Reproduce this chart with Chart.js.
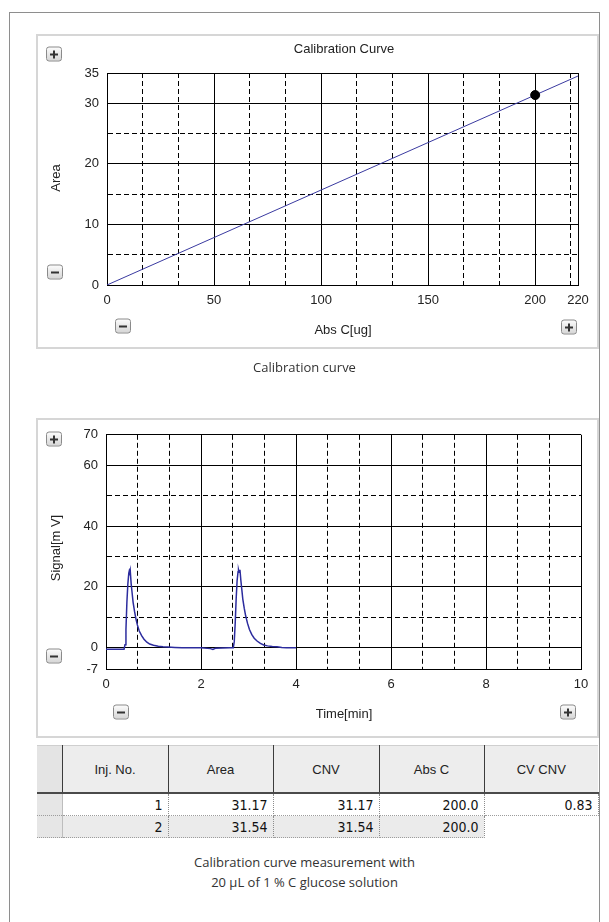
<!DOCTYPE html>
<html><head><meta charset="utf-8">
<script src="https://cdn.jsdelivr.net/npm/chart.js@4.4.1/dist/chart.umd.min.js"></script>
<style>
html,body{margin:0;padding:0;background:#fff;}
body{width:609px;height:922px;position:relative;overflow:hidden;font-family:"Liberation Sans",Arial,sans-serif;}
.abs{position:absolute;}
.frame{left:9px;top:12px;width:591px;height:940px;border:1px solid #8e8e8e;box-sizing:border-box;}
.panel{border:2px solid #d6d6d6;box-sizing:border-box;background:#fff;}
.lbl{position:absolute;font-size:13px;color:#222;white-space:nowrap;transform:translate(-50%,-50%);line-height:1;}
.rot{transform:translate(-50%,-50%) rotate(-90deg);}
.btn{position:absolute;width:16px;height:15px;box-sizing:border-box;border:1px solid #8a8a8a;border-radius:3px;background:linear-gradient(#fbfbfb,#d6d6d6);transform:translate(-50%,-50%);}
.btn::before{content:"";position:absolute;left:3px;top:6px;width:8px;height:2px;background:#333;}
.btn.plus::after{content:"";position:absolute;left:6px;top:3px;width:2px;height:8px;background:#333;}
.cap{position:absolute;left:0;width:609px;text-align:center;font-family:"Open Sans","Noto Sans",sans-serif;font-size:13px;color:#333;line-height:20px;}
canvas{position:absolute;}
.tbl{position:absolute;left:37px;top:745px;width:561px;border-collapse:collapse;table-layout:fixed;}
.tbl th{background:#ededed;height:46px;font-weight:normal;font-size:13px;color:#222;border-right:1px solid #3c3c3c;border-bottom:2px solid #4a4a4a;border-top:1px solid #cfcfcf;padding:0;}
.tbl th:last-child{border-right:none;}
.tbl th.stub{background:#e4e4e4;}
.tbl td{height:21px;padding:0 5px 0 0;text-align:right;font-family:"Liberation Sans Narrow","DejaVu Sans Condensed",sans-serif;font-stretch:condensed;font-size:14px;color:#111;border-right:1px dotted #8c8c8c;border-bottom:1px dotted #9c9c9c;}
.tbl td.stub{background:#e6e6e6;border-right:1px solid #bdbdbd;}
.tbl tr.alt td{background:#ebebeb;}
.tbl tr.alt td.stub{background:#e6e6e6;}
.tbl tr.alt td.empty{background:#fff;border:none;}
</style>
</head>
<body>
<div class="abs frame"></div>
<div class="abs panel" style="left:36px;top:34px;width:563px;height:315px;"></div>
<div class="abs panel" style="left:36px;top:418px;width:563px;height:320px;"></div>
<canvas id="c1" width="561" height="313" style="left:37px;top:35px;"></canvas>
<canvas id="c2" width="561" height="318" style="left:37px;top:419px;"></canvas>

<div class="lbl" style="left:344px;top:48px;">Calibration Curve</div>
<div class="lbl rot" style="left:55px;top:178px;">Area</div>
<div class="lbl" style="left:343px;top:329px;">Abs C[ug]</div>
<div class="lbl rot" style="left:55px;top:548px;">Signal[m V]</div>
<div class="lbl" style="left:344px;top:713px;">Time[min]</div>

<div class="btn plus" style="left:54px;top:54px;"></div>
<div class="btn" style="left:55px;top:272px;"></div>
<div class="btn" style="left:123px;top:326px;"></div>
<div class="btn plus" style="left:569px;top:327px;"></div>
<div class="btn plus" style="left:54px;top:439px;"></div>
<div class="btn" style="left:54px;top:656px;"></div>
<div class="btn" style="left:121px;top:712px;"></div>
<div class="btn plus" style="left:568px;top:712px;"></div>

<div class="cap" style="top:357px;">Calibration curve</div>
<table class="tbl" id="tbl"></table>
<div class="cap" style="top:852px;">Calibration curve measurement with<br>20 µL of 1 % C glucose solution</div>

<script>
// ---- data ----
const calLineX = [0, 220];
const calLineY = [0, 34.5];
const stdX = [200];
const stdY = [31.36];
const topXLabels = [0, 50, 100, 150, 200, 220];
const topYLabels = [0, 10, 20, 30, 35];
const topYMinor = [5, 15, 25];

const timeMin = [0, 0.2, 0.38, 0.40, 0.42, 0.44, 0.46, 0.48, 0.49, 0.50, 0.51, 0.53, 0.55, 0.57, 0.60, 0.63, 0.66, 0.70, 0.75, 0.80, 0.86, 0.92, 1.00, 1.10, 1.20, 1.30, 1.45, 1.60, 2.00, 2.20, 2.25, 2.30, 2.60, 2.68, 2.70, 2.72, 2.74, 2.76, 2.78, 2.79, 2.80, 2.82, 2.84, 2.86, 2.88, 2.91, 2.94, 2.98, 3.02, 3.07, 3.12, 3.18, 3.25, 3.32, 3.40, 3.50, 3.60, 3.70, 3.80, 4.00];
const signalMv = [-0.5, -0.5, -0.5, 1, 6, 15, 21, 24.5, 25.2, 24.6, 25.4, 21, 18, 15, 12, 9.5, 7.5, 5.5, 4, 2.8, 1.8, 1.2, 0.8, 0.5, 0.3, 0.2, 0.1, 0, 0, -0.3, -0.6, -0.2, 0, 0, 2, 8, 16, 22, 25, 25.5, 24.8, 25.6, 22, 19, 16, 13, 10.5, 8, 6, 4.3, 3.1, 2.2, 1.4, 0.9, 0.6, 0.4, 0.3, 0.1, 0, 0];
const botXLabels = [0, 2, 4, 6, 8, 10];
const botYLabels = [-7, 0, 20, 40, 60, 70];
const botYMinor = [10, 30, 50];

const tblHeaders = ["Inj. No.", "Area", "CNV", "Abs C", "CV CNV"];
const injNo = [1, 2];
const areaVals = [31.17, 31.54];
const cnvVals = [31.17, 31.54];
const absCVals = [200.0, 200.0];
const cvCnvVals = [0.83];

// ---- helpers ----
const near = (a, b) => Math.abs(a - b) < 1e-6;
function minorsBetween(majors, step, max) {
  const out = [];
  for (let k = 1; k * step < max - 1e-6; k++) {
    const v = k * step;
    if (!majors.some(m => near(m, v))) out.push(v);
  }
  return out;
}
const topXMinor = minorsBetween(topXLabels, 50 / 3, 220);
const botXMinor = minorsBetween(botXLabels, 2 / 3, 10);

function axis(min, max, labels, minors, isX, size) {
  return {
    type: 'linear', min, max,
    afterBuildTicks: s => { s.ticks = labels.concat(minors).sort((a, b) => a - b).map(v => ({ value: v })); },
    afterFit: s => { if (isX) s.height = size; else s.width = size; },
    grid: { color: '#000', lineWidth: 1, drawTicks: false },
    border: { display: true, color: '#000', width: 1,
      dash: ctx => (ctx.tick && minors.some(m => near(m, ctx.tick.value))) ? [5, 3] : [] },
    ticks: { autoSkip: false, maxRotation: 0, minRotation: 0, padding: 8, color: '#222',
      font: { family: 'Liberation Sans', size: 13 },
      callback: v => { const l = labels.find(x => near(x, v)); return l === undefined ? '' : String(l); } }
  };
}

Chart.defaults.animation = false;

new Chart(document.getElementById('c1'), {
  type: 'scatter',
  data: { datasets: [
    { data: stdX.map((x, i) => ({ x, y: stdY[i] })), pointRadius: 4.5, pointBackgroundColor: '#000', pointBorderColor: '#000' },
    { data: calLineX.map((x, i) => ({ x, y: calLineY[i] })), showLine: true, pointRadius: 0, borderColor: '#3a3aa0', borderWidth: 1 }
  ]},
  options: {
    responsive: false, animation: false,
    layout: { padding: { left: 0, top: 38, right: 20, bottom: 33 } },
    plugins: { legend: { display: false }, tooltip: { enabled: false } },
    scales: {
      x: axis(0, 220, topXLabels, topXMinor, true, 30),
      y: axis(0, 35, topYLabels, topYMinor, false, 70)
    }
  }
});

new Chart(document.getElementById('c2'), {
  type: 'scatter',
  data: { datasets: [
    { data: timeMin.map((x, i) => ({ x, y: signalMv[i] })), showLine: true, pointRadius: 0, borderColor: '#2c2c9e', borderWidth: 1.5, tension: 0 }
  ]},
  options: {
    responsive: false, animation: false,
    layout: { padding: { left: 0, top: 10, right: 17, bottom: 38 } },
    plugins: { legend: { display: false }, tooltip: { enabled: false } },
    scales: {
      x: axis(0, 10, botXLabels, botXMinor, true, 30),
      y: axis(-7, 70, botYLabels, botYMinor, false, 69)
    }
  }
});

// ---- table ----
const colW = [25, 106, 105, 106, 105, 114];
let html = '<colgroup>' + colW.map(w => '<col style="width:' + w + 'px">').join('') + '</colgroup>';
html += '<tr><th class="stub"></th>' + tblHeaders.map(h => '<th>' + h + '</th>').join('') + '</tr>';
injNo.forEach((n, i) => {
  html += '<tr' + (i % 2 ? ' class="alt"' : '') + '><td class="stub"></td><td>' + n + '</td><td>' + areaVals[i].toFixed(2) +
    '</td><td>' + cnvVals[i].toFixed(2) + '</td><td>' + absCVals[i].toFixed(1) + '</td>' +
    (cvCnvVals[i] !== undefined ? '<td>' + cvCnvVals[i].toFixed(2) + '</td>' : '<td class="empty"></td>') + '</tr>';
});
document.getElementById('tbl').innerHTML = html;
</script>
</body></html>
